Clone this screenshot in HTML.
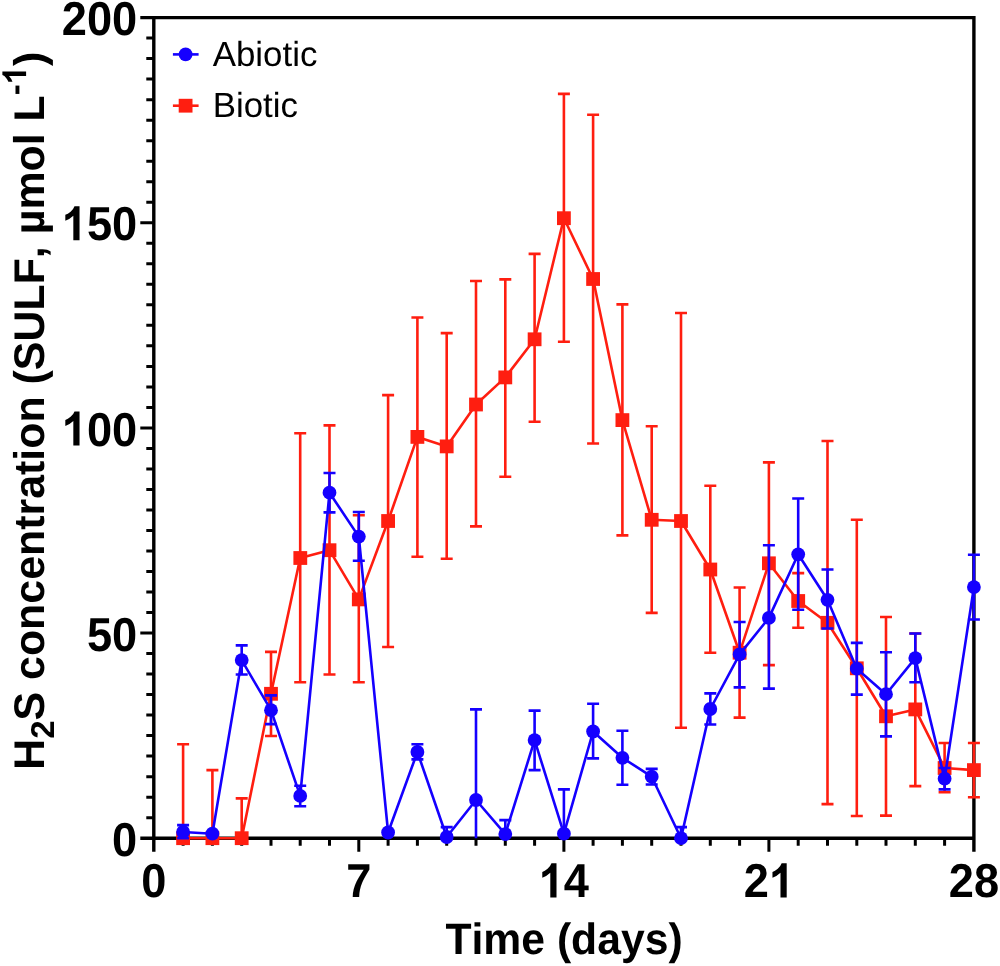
<!DOCTYPE html>
<html><head><meta charset="utf-8"><title>H2S concentration</title>
<style>
html,body{margin:0;padding:0;background:#fff;}
body{width:1000px;height:966px;overflow:hidden;}
svg{display:block;filter:blur(0.45px);font-family:"Liberation Sans",sans-serif;font-kerning:none;text-rendering:geometricPrecision;}
.tk{font-size:45px;font-weight:bold;fill:#000;}
.ti{font-size:42.9px;font-weight:bold;fill:#000;}
.lg{font-size:34.9px;fill:#000;}
</style></head>
<body>
<svg width="1000" height="966" viewBox="0 0 1000 966">
<rect width="1000" height="966" fill="#fff"/>
<g id="axes">
<path d="M140.3 838.2H973.9M140.3 17.6H975.6M153.8 17.6V851.7M973.9 17.6V851.7" fill="none" stroke="#000" stroke-width="3.4"/>
<path d="M153.8 817.7h-7.5M153.8 797.2h-7.5M153.8 776.7h-7.5M153.8 756.1h-7.5M153.8 735.6h-7.5M153.8 715.1h-7.5M153.8 694.6h-7.5M153.8 674.1h-7.5M153.8 653.6h-7.5M153.8 633.1h-13.5M153.8 612.5h-7.5M153.8 592.0h-7.5M153.8 571.5h-7.5M153.8 551.0h-7.5M153.8 530.5h-7.5M153.8 510.0h-7.5M153.8 489.4h-7.5M153.8 468.9h-7.5M153.8 448.4h-7.5M153.8 427.9h-13.5M153.8 407.4h-7.5M153.8 386.9h-7.5M153.8 366.4h-7.5M153.8 345.8h-7.5M153.8 325.3h-7.5M153.8 304.8h-7.5M153.8 284.3h-7.5M153.8 263.8h-7.5M153.8 243.3h-7.5M153.8 222.8h-13.5M153.8 202.2h-7.5M153.8 181.7h-7.5M153.8 161.2h-7.5M153.8 140.7h-7.5M153.8 120.2h-7.5M153.8 99.7h-7.5M153.8 79.1h-7.5M153.8 58.6h-7.5M153.8 38.1h-7.5M183.1 838.2v7.5M212.4 838.2v7.5M241.7 838.2v7.5M271.0 838.2v7.5M300.2 838.2v7.5M329.5 838.2v7.5M358.8 838.2v13.5M388.1 838.2v7.5M417.4 838.2v7.5M446.7 838.2v7.5M476.0 838.2v7.5M505.3 838.2v7.5M534.6 838.2v7.5M563.9 838.2v13.5M593.1 838.2v7.5M622.4 838.2v7.5M651.7 838.2v7.5M681.0 838.2v7.5M710.3 838.2v7.5M739.6 838.2v7.5M768.9 838.2v13.5M798.2 838.2v7.5M827.5 838.2v7.5M856.8 838.2v7.5M886.0 838.2v7.5M915.3 838.2v7.5M944.6 838.2v7.5" fill="none" stroke="#000" stroke-width="3"/>
</g>
<g id="text">
<g transform="translate(112.05 855.80) scale(1.005 1.055)"><text x="0.00" y="0" font-size="45" font-weight="bold">0</text></g>
<g transform="translate(86.90 650.65) scale(1.005 1.055)"><text x="0.00" y="0" font-size="45" font-weight="bold">5</text><text x="25.03" y="0" font-size="45" font-weight="bold">0</text></g>
<g transform="translate(61.74 445.50) scale(1.005 1.055)"><path transform="translate(0.00 0) scale(0.02197 -0.02197)" d="M806 0H525V1059Q371 915 162 846V1101Q272 1137 401 1237.5T578 1472H806Z"/><text x="25.03" y="0" font-size="45" font-weight="bold">0</text><text x="50.05" y="0" font-size="45" font-weight="bold">0</text></g>
<g transform="translate(61.74 240.35) scale(1.005 1.055)"><path transform="translate(0.00 0) scale(0.02197 -0.02197)" d="M806 0H525V1059Q371 915 162 846V1101Q272 1137 401 1237.5T578 1472H806Z"/><text x="25.03" y="0" font-size="45" font-weight="bold">5</text><text x="50.05" y="0" font-size="45" font-weight="bold">0</text></g>
<g transform="translate(61.74 35.20) scale(1.005 1.055)"><text x="0.00" y="0" font-size="45" font-weight="bold">2</text><text x="25.03" y="0" font-size="45" font-weight="bold">0</text><text x="50.05" y="0" font-size="45" font-weight="bold">0</text></g>
<g transform="translate(141.22 897.4) scale(1.005 1.055)"><text x="0.00" y="0" font-size="45" font-weight="bold">0</text></g>
<g transform="translate(346.25 897.4) scale(1.005 1.055)"><text x="0.00" y="0" font-size="45" font-weight="bold">7</text></g>
<g transform="translate(538.71 897.4) scale(1.005 1.055)"><path transform="translate(0.00 0) scale(0.02197 -0.02197)" d="M806 0H525V1059Q371 915 162 846V1101Q272 1137 401 1237.5T578 1472H806Z"/><text x="25.03" y="0" font-size="45" font-weight="bold">4</text></g>
<g transform="translate(743.74 897.4) scale(1.005 1.055)"><text x="0.00" y="0" font-size="45" font-weight="bold">2</text><path transform="translate(25.03 0) scale(0.02197 -0.02197)" d="M806 0H525V1059Q371 915 162 846V1101Q272 1137 401 1237.5T578 1472H806Z"/></g>
<g transform="translate(948.77 897.4) scale(1.005 1.055)"><text x="0.00" y="0" font-size="45" font-weight="bold">2</text><text x="25.03" y="0" font-size="45" font-weight="bold">8</text></g>
<text transform="translate(564 954.2) scale(1 1.03)" text-anchor="middle" font-size="42.7" font-weight="bold">Time (days)</text>
<g transform="translate(43.8 769.8) rotate(-90)" font-size="42.9" font-weight="bold"><text style="letter-spacing:0.0px">H<tspan dy="10" font-size="33">2</tspan><tspan dy="-10">S concentration (SULF, µmol L</tspan><tspan dy="-17.7" font-size="33">-</tspan></text><path transform="translate(685.4 -17.7) scale(0.01611 -0.01611)" d="M806 0H525V1059Q371 915 162 846V1101Q272 1137 401 1237.5T578 1472H806Z"/><text x="703.8">)</text></g>
<text x="212.7" y="66.4" class="lg">Abiotic</text>
<text x="212.7" y="117.1" class="lg">Biotic</text>
</g>
<g id="legend">
<path d="M172.9 54.4H198.6" stroke="#1500ff" stroke-width="2.6"/><circle cx="185.6" cy="54.4" r="6.9" fill="#1500ff"/>
<path d="M172.9 105.7H198.6" stroke="#ff1e10" stroke-width="2.6"/><rect x="178.7" y="98.8" width="13.8" height="13.8" fill="#ff1e10"/>
</g>
<g id="biotic">
<path d="M183.1 838.2V744.2M177.1 744.2h12.0M212.4 838.2V770.1M206.4 770.1h12.0M241.7 838.2V798.4M235.7 798.4h12.0M271.0 693.8V651.9M265.0 651.9h12.0M271.0 693.8V736.0M265.0 736.0h12.0M300.2 558.0V433.2M294.2 433.2h12.0M300.2 558.0V682.3M294.2 682.3h12.0M329.5 550.2V425.4M323.5 425.4h12.0M329.5 550.2V674.5M323.5 674.5h12.0M358.8 599.4V515.3M352.8 515.3h12.0M358.8 599.4V682.3M352.8 682.3h12.0M388.1 521.0V395.1M382.1 395.1h12.0M388.1 521.0V647.0M382.1 647.0h12.0M417.4 436.9V317.5M411.4 317.5h12.0M417.4 436.9V556.7M411.4 556.7h12.0M446.7 446.4V333.1M440.7 333.1h12.0M446.7 446.4V558.8M440.7 558.8h12.0M476.0 404.5V281.0M470.0 281.0h12.0M476.0 404.5V526.4M470.0 526.4h12.0M505.3 377.4V279.4M499.3 279.4h12.0M505.3 377.4V476.7M499.3 476.7h12.0M534.6 339.3V253.9M528.6 253.9h12.0M534.6 339.3V421.7M528.6 421.7h12.0M563.9 218.2V93.9M557.9 93.9h12.0M563.9 218.2V341.7M557.9 341.7h12.0M593.1 279.0V114.8M587.1 114.8h12.0M593.1 279.0V443.5M587.1 443.5h12.0M622.4 420.1V304.4M616.4 304.4h12.0M622.4 420.1V535.4M616.4 535.4h12.0M651.7 519.8V426.3M645.7 426.3h12.0M651.7 519.8V612.9M645.7 612.9h12.0M681.0 521.0V313.0M675.0 313.0h12.0M681.0 521.0V727.8M675.0 727.8h12.0M710.3 569.5V485.8M704.3 485.8h12.0M710.3 569.5V652.7M704.3 652.7h12.0M739.6 652.7V587.5M733.6 587.5h12.0M739.6 652.7V717.6M733.6 717.6h12.0M768.9 563.3V462.4M762.9 462.4h12.0M768.9 563.3V665.1M762.9 665.1h12.0M798.2 601.0V573.1M792.2 573.1h12.0M798.2 601.0V627.7M792.2 627.7h12.0M827.5 622.8V441.0M821.5 441.0h12.0M827.5 622.8V804.1M821.5 804.1h12.0M856.8 668.3V519.8M850.8 519.8h12.0M856.8 668.3V816.0M850.8 816.0h12.0M886.0 716.3V617.0M880.0 617.0h12.0M886.0 716.3V815.6M880.0 815.6h12.0M915.3 709.4V633.5M909.3 633.5h12.0M915.3 709.4V786.1M909.3 786.1h12.0M944.6 768.0V743.0M938.6 743.0h12.0M944.6 768.0V792.2M938.6 792.2h12.0M973.9 770.1V743.0M967.9 743.0h12.0M973.9 770.1V797.2M967.9 797.2h12.0" fill="none" stroke="#ff1e10" stroke-width="2.6"/>
<polyline points="183.1,838.2 212.4,838.2 241.7,838.2 271.0,693.8 300.2,558.0 329.5,550.2 358.8,599.4 388.1,521.0 417.4,436.9 446.7,446.4 476.0,404.5 505.3,377.4 534.6,339.3 563.9,218.2 593.1,279.0 622.4,420.1 651.7,519.8 681.0,521.0 710.3,569.5 739.6,652.7 768.9,563.3 798.2,601.0 827.5,622.8 856.8,668.3 886.0,716.3 915.3,709.4 944.6,768.0 973.9,770.1" fill="none" stroke="#ff1e10" stroke-width="2.6" stroke-linejoin="round"/>
<rect x="176.2" y="831.3" width="13.8" height="13.8" fill="#ff1e10"/>
<rect x="205.5" y="831.3" width="13.8" height="13.8" fill="#ff1e10"/>
<rect x="234.8" y="831.3" width="13.8" height="13.8" fill="#ff1e10"/>
<rect x="264.1" y="686.9" width="13.8" height="13.8" fill="#ff1e10"/>
<rect x="293.4" y="551.1" width="13.8" height="13.8" fill="#ff1e10"/>
<rect x="322.6" y="543.3" width="13.8" height="13.8" fill="#ff1e10"/>
<rect x="351.9" y="592.5" width="13.8" height="13.8" fill="#ff1e10"/>
<rect x="381.2" y="514.1" width="13.8" height="13.8" fill="#ff1e10"/>
<rect x="410.5" y="430.0" width="13.8" height="13.8" fill="#ff1e10"/>
<rect x="439.8" y="439.5" width="13.8" height="13.8" fill="#ff1e10"/>
<rect x="469.1" y="397.6" width="13.8" height="13.8" fill="#ff1e10"/>
<rect x="498.4" y="370.5" width="13.8" height="13.8" fill="#ff1e10"/>
<rect x="527.7" y="332.4" width="13.8" height="13.8" fill="#ff1e10"/>
<rect x="557.0" y="211.3" width="13.8" height="13.8" fill="#ff1e10"/>
<rect x="586.2" y="272.1" width="13.8" height="13.8" fill="#ff1e10"/>
<rect x="615.5" y="413.2" width="13.8" height="13.8" fill="#ff1e10"/>
<rect x="644.8" y="512.9" width="13.8" height="13.8" fill="#ff1e10"/>
<rect x="674.1" y="514.1" width="13.8" height="13.8" fill="#ff1e10"/>
<rect x="703.4" y="562.6" width="13.8" height="13.8" fill="#ff1e10"/>
<rect x="732.7" y="645.8" width="13.8" height="13.8" fill="#ff1e10"/>
<rect x="762.0" y="556.4" width="13.8" height="13.8" fill="#ff1e10"/>
<rect x="791.3" y="594.1" width="13.8" height="13.8" fill="#ff1e10"/>
<rect x="820.6" y="615.9" width="13.8" height="13.8" fill="#ff1e10"/>
<rect x="849.9" y="661.4" width="13.8" height="13.8" fill="#ff1e10"/>
<rect x="879.1" y="709.4" width="13.8" height="13.8" fill="#ff1e10"/>
<rect x="908.4" y="702.5" width="13.8" height="13.8" fill="#ff1e10"/>
<rect x="937.7" y="761.1" width="13.8" height="13.8" fill="#ff1e10"/>
<rect x="967.0" y="763.2" width="13.8" height="13.8" fill="#ff1e10"/>
</g>
<g id="abiotic">
<path d="M183.1 832.0V825.1M177.1 825.1h12.0M183.1 832.0V838.2M177.1 838.2h12.0M241.7 660.1V645.4M235.7 645.4h12.0M241.7 660.1V674.5M235.7 674.5h12.0M271.0 710.2V695.4M265.0 695.4h12.0M271.0 710.2V724.1M265.0 724.1h12.0M300.2 795.9V785.7M294.2 785.7h12.0M300.2 795.9V806.2M294.2 806.2h12.0M329.5 492.7V473.0M323.5 473.0h12.0M329.5 492.7V512.4M323.5 512.4h12.0M358.8 536.6V512.0M352.8 512.0h12.0M358.8 536.6V560.8M352.8 560.8h12.0M417.4 752.0V744.2M411.4 744.2h12.0M417.4 752.0V759.4M411.4 759.4h12.0M446.7 837.0V827.1M440.7 827.1h12.0M476.0 800.0V709.4M470.0 709.4h12.0M476.0 800.0V838.2M505.3 834.1V820.1M499.3 820.1h12.0M534.6 740.1V710.6M528.6 710.6h12.0M534.6 740.1V770.1M528.6 770.1h12.0M563.9 833.7V789.4M557.9 789.4h12.0M593.1 731.5V703.8M587.1 703.8h12.0M593.1 731.5V758.4M587.1 758.4h12.0M622.4 757.8V730.7M616.4 730.7h12.0M622.4 757.8V784.7M616.4 784.7h12.0M651.7 776.7V768.9M645.7 768.9h12.0M651.7 776.7V784.5M645.7 784.5h12.0M681.0 838.2V827.1M675.0 827.1h12.0M710.3 709.0V693.4M704.3 693.4h12.0M710.3 709.0V724.5M704.3 724.5h12.0M739.6 654.4V622.0M733.6 622.0h12.0M739.6 654.4V687.4M733.6 687.4h12.0M768.9 617.9V545.2M762.9 545.2h12.0M768.9 617.9V688.6M762.9 688.6h12.0M798.2 554.3V498.5M792.2 498.5h12.0M798.2 554.3V609.7M792.2 609.7h12.0M827.5 599.8V569.5M821.5 569.5h12.0M827.5 599.8V628.5M821.5 628.5h12.0M856.8 668.7V642.9M850.8 642.9h12.0M856.8 668.7V694.6M850.8 694.6h12.0M886.0 694.2V652.3M880.0 652.3h12.0M886.0 694.2V736.4M880.0 736.4h12.0M915.3 658.1V633.5M909.3 633.5h12.0M915.3 658.1V682.3M909.3 682.3h12.0M944.6 778.7V768.0M938.6 768.0h12.0M944.6 778.7V789.4M938.6 789.4h12.0M973.9 587.1V554.7M967.9 554.7h12.0M973.9 587.1V619.5M967.9 619.5h12.0" fill="none" stroke="#1500ff" stroke-width="2.6"/>
<polyline points="183.1,832.0 212.4,833.7 241.7,660.1 271.0,710.2 300.2,795.9 329.5,492.7 358.8,536.6 388.1,832.5 417.4,752.0 446.7,837.0 476.0,800.0 505.3,834.1 534.6,740.1 563.9,833.7 593.1,731.5 622.4,757.8 651.7,776.7 681.0,838.2 710.3,709.0 739.6,654.4 768.9,617.9 798.2,554.3 827.5,599.8 856.8,668.7 886.0,694.2 915.3,658.1 944.6,778.7 973.9,587.1" fill="none" stroke="#1500ff" stroke-width="2.6" stroke-linejoin="round"/>
<circle cx="183.1" cy="832.0" r="6.9" fill="#1500ff"/>
<circle cx="212.4" cy="833.7" r="6.9" fill="#1500ff"/>
<circle cx="241.7" cy="660.1" r="6.9" fill="#1500ff"/>
<circle cx="271.0" cy="710.2" r="6.9" fill="#1500ff"/>
<circle cx="300.2" cy="795.9" r="6.9" fill="#1500ff"/>
<circle cx="329.5" cy="492.7" r="6.9" fill="#1500ff"/>
<circle cx="358.8" cy="536.6" r="6.9" fill="#1500ff"/>
<circle cx="388.1" cy="832.5" r="6.9" fill="#1500ff"/>
<circle cx="417.4" cy="752.0" r="6.9" fill="#1500ff"/>
<circle cx="446.7" cy="837.0" r="6.9" fill="#1500ff"/>
<circle cx="476.0" cy="800.0" r="6.9" fill="#1500ff"/>
<circle cx="505.3" cy="834.1" r="6.9" fill="#1500ff"/>
<circle cx="534.6" cy="740.1" r="6.9" fill="#1500ff"/>
<circle cx="563.9" cy="833.7" r="6.9" fill="#1500ff"/>
<circle cx="593.1" cy="731.5" r="6.9" fill="#1500ff"/>
<circle cx="622.4" cy="757.8" r="6.9" fill="#1500ff"/>
<circle cx="651.7" cy="776.7" r="6.9" fill="#1500ff"/>
<circle cx="681.0" cy="838.2" r="6.9" fill="#1500ff"/>
<circle cx="710.3" cy="709.0" r="6.9" fill="#1500ff"/>
<circle cx="739.6" cy="654.4" r="6.9" fill="#1500ff"/>
<circle cx="768.9" cy="617.9" r="6.9" fill="#1500ff"/>
<circle cx="798.2" cy="554.3" r="6.9" fill="#1500ff"/>
<circle cx="827.5" cy="599.8" r="6.9" fill="#1500ff"/>
<circle cx="856.8" cy="668.7" r="6.9" fill="#1500ff"/>
<circle cx="886.0" cy="694.2" r="6.9" fill="#1500ff"/>
<circle cx="915.3" cy="658.1" r="6.9" fill="#1500ff"/>
<circle cx="944.6" cy="778.7" r="6.9" fill="#1500ff"/>
<circle cx="973.9" cy="587.1" r="6.9" fill="#1500ff"/>
</g>
</svg>
</body></html>
